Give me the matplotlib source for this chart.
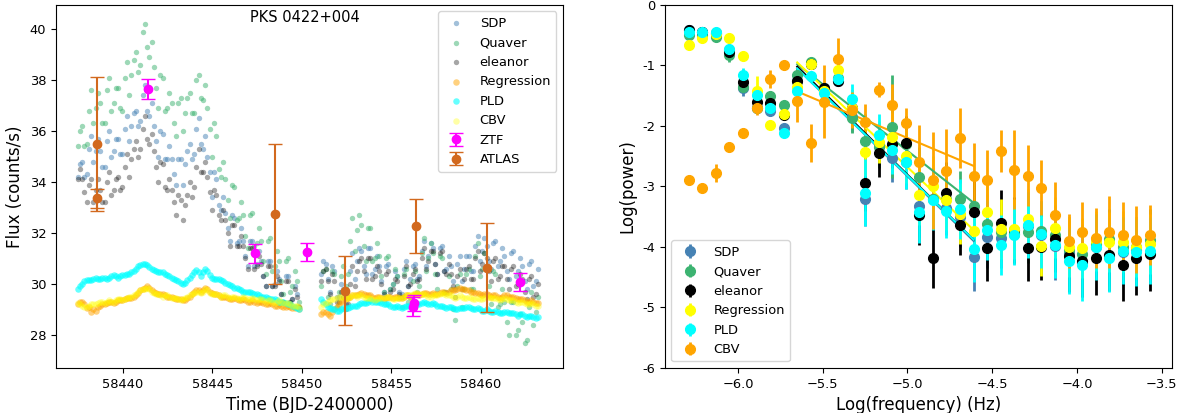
import matplotlib
matplotlib.use("Agg")
import matplotlib.pyplot as plt

# ---------------- Left panel: light curves (two interleaved readings per series) ----------------
time_bjd = [58437.6, 58437.85, 58438.1, 58438.35, 58438.6, 58438.85, 58439.1, 58439.35, 58439.6, 58439.85,
            58440.1, 58440.35, 58440.6, 58440.85, 58441.1, 58441.35, 58441.6, 58441.85, 58442.1, 58442.35,
            58442.6, 58442.85, 58443.1, 58443.35, 58443.6, 58443.85, 58444.1, 58444.35, 58444.6, 58444.85,
            58445.1, 58445.35, 58445.6, 58445.85, 58446.1, 58446.35, 58446.6, 58446.85, 58447.1, 58447.35,
            58447.6, 58447.85, 58448.1, 58448.35, 58448.6, 58448.85, 58449.1, 58449.35, 58449.6, 58449.85,
            58451.2, 58451.45, 58451.7, 58451.95, 58452.2, 58452.45, 58452.7, 58452.95, 58453.2, 58453.45,
            58453.7, 58453.95, 58454.2, 58454.45, 58454.7, 58454.95, 58455.2, 58455.45, 58455.7, 58455.95,
            58456.2, 58456.45, 58456.7, 58456.95, 58457.2, 58457.45, 58457.7, 58457.95, 58458.2, 58458.45,
            58458.7, 58458.95, 58459.2, 58459.45, 58459.7, 58459.95, 58460.2, 58460.45, 58460.7, 58460.95,
            58461.2, 58461.45, 58461.7, 58461.95, 58462.2, 58462.45, 58462.7, 58462.95, 58463.2]
time_bjd_b = [58437.475, 58437.725, 58437.975, 58438.225, 58438.475, 58438.725, 58438.975, 58439.225,
              58439.475, 58439.725, 58439.975, 58440.225, 58440.475, 58440.725, 58440.975, 58441.225,
              58441.475, 58441.725, 58441.975, 58442.225, 58442.475, 58442.725, 58442.975, 58443.225,
              58443.475, 58443.725, 58443.975, 58444.225, 58444.475, 58444.725, 58444.975, 58445.225,
              58445.475, 58445.725, 58445.975, 58446.225, 58446.475, 58446.725, 58446.975, 58447.225,
              58447.475, 58447.725, 58447.975, 58448.225, 58448.475, 58448.725, 58448.975, 58449.225,
              58449.475, 58449.725,
              58451.075, 58451.325, 58451.575, 58451.825, 58452.075, 58452.325, 58452.575, 58452.825,
              58453.075, 58453.325, 58453.575, 58453.825, 58454.075, 58454.325, 58454.575, 58454.825,
              58455.075, 58455.325, 58455.575, 58455.825, 58456.075, 58456.325, 58456.575, 58456.825,
              58457.075, 58457.325, 58457.575, 58457.825, 58458.075, 58458.325, 58458.575, 58458.825,
              58459.075, 58459.325, 58459.575, 58459.825, 58460.075, 58460.325, 58460.575, 58460.825,
              58461.075, 58461.325, 58461.575, 58461.825, 58462.075, 58462.325, 58462.575, 58462.825,
              58463.075]

flux_sdp = [34.7, 34.2, 35.3, 34.8, 35.7, 34.6, 35.6, 35.0, 35.7, 35.1, 36.1, 35.6, 36.7, 36.2, 37.4, 36.8,
            37.1, 35.6, 36.0, 34.9, 35.4, 34.3, 34.9, 33.9, 35.2, 34.9, 36.1, 35.5, 35.8, 34.4, 34.4, 33.1,
            33.4, 32.2, 32.7, 31.6, 32.2, 31.1, 31.7, 30.7, 31.3, 30.3, 30.9, 29.9, 30.5, 29.6, 30.3, 29.3,
            29.9, 29.1,
            30.9, 30.2, 30.7, 29.5, 30.0, 29.2, 30.5, 30.2, 31.4, 30.7, 31.4, 30.4, 31.1, 30.1, 30.7, 29.8,
            30.5, 29.7, 30.6, 29.9, 30.7, 30.2, 31.3, 30.7, 31.6, 30.8, 31.4, 30.5, 31.1, 30.1, 30.8, 30.1,
            31.1, 30.5, 31.5, 30.9, 31.8, 30.9, 31.6, 30.7, 31.4, 30.5, 31.2, 30.3, 31.0, 30.1, 30.8, 29.9,
            30.6]
flux_sdp_b = [34.2, 34.8, 34.3, 35.8, 35.2, 35.2, 34.6, 36.0, 35.2, 35.7, 35.1, 36.6, 36.2, 36.8, 36.4, 37.8,
              36.6, 36.2, 35.0, 35.9, 34.9, 34.9, 33.9, 34.9, 34.7, 35.5, 35.1, 36.5, 35.3, 35.0, 33.4, 34.1,
              32.9, 32.8, 31.7, 32.6, 31.7, 31.7, 30.7, 31.7, 30.8, 30.9, 29.9, 30.9, 30.0, 30.2, 29.3, 30.3,
              29.4, 29.6,
              30.4, 30.8, 29.7, 30.5, 29.5, 29.8, 29.5, 31.2, 30.9, 31.3, 30.4, 31.4, 30.6, 30.7, 29.7, 30.8,
              30.0, 30.3, 29.6, 30.9, 30.2, 30.8, 30.3, 31.7, 31.1, 31.4, 30.4, 31.5, 30.6, 30.7, 29.8, 31.1,
              30.6, 31.1, 30.5, 31.9, 31.3, 31.5, 30.6, 31.7, 30.9, 31.1, 30.2, 31.3, 30.5, 30.7, 29.8, 30.9,
              30.1]

flux_quaver = [36.0, 35.4, 36.8, 36.3, 37.5, 36.3, 37.6, 36.8, 37.7, 36.9, 38.1, 37.4, 38.8, 38.3, 39.9, 39.3,
               39.5, 37.7, 38.2, 36.8, 37.5, 36.3, 37.1, 36.0, 37.3, 36.7, 38.0, 37.3, 37.8, 36.1, 36.3, 34.5,
               34.8, 33.3, 33.9, 32.5, 33.2, 31.9, 32.7, 31.5, 32.2, 30.9, 31.7, 30.5, 31.3, 30.1, 30.9, 29.7,
               30.5, 29.3,
               30.5, 29.5, 30.5, 29.1, 30.3, 29.9, 31.7, 31.3, 32.7, 31.5, 32.2, 30.9, 31.6, 30.3, 31.0, 29.8,
               30.6, 29.5, 30.4, 29.3, 30.1, 29.7, 31.2, 30.5, 31.6, 30.4, 31.1, 29.7, 30.3, 29.0, 29.9, 29.1,
               30.4, 29.8, 31.1, 30.3, 31.2, 29.9, 30.5, 29.1, 29.8, 28.5, 29.3, 28.0, 28.8, 27.7, 29.1, 28.4,
               29.5]
flux_quaver_b = [35.4, 36.2, 35.5, 37.6, 36.9, 37.1, 36.3, 38.1, 37.1, 37.7, 36.8, 38.7, 38.2, 39.1, 38.6, 40.2,
                 38.9, 38.5, 36.9, 38.1, 36.9, 37.1, 35.8, 37.3, 36.7, 37.5, 36.7, 38.2, 37.2, 36.9, 35.0, 35.8,
                 34.2, 34.1, 32.6, 33.8, 32.6, 32.7, 31.4, 32.8, 31.6, 31.7, 30.4, 31.8, 30.7, 30.9, 29.6, 31.0,
                 29.9, 30.1,
                 29.9, 30.6, 29.2, 30.4, 29.7, 30.7, 30.4, 32.6, 32.1, 32.3, 30.9, 32.2, 31.0, 31.1, 29.7, 31.1,
                 30.0, 30.3, 29.1, 30.6, 29.5, 30.5, 29.9, 31.8, 31.0, 31.2, 29.8, 31.0, 29.7, 29.8, 28.6, 30.4,
                 29.8, 30.6, 29.8, 31.6, 30.6, 30.7, 29.2, 30.4, 29.2, 29.3, 28.0, 29.3, 28.2, 28.5, 27.8, 29.7,
                 28.9]

flux_eleanor = [34.5, 33.6, 33.9, 33.2, 34.1, 33.2, 34.0, 33.5, 34.1, 33.7, 34.6, 34.2, 35.3, 35.0, 36.1, 35.7,
                35.9, 34.6, 34.8, 33.8, 34.1, 33.2, 33.5, 32.5, 33.5, 33.4, 34.6, 34.4, 34.8, 33.6, 33.7, 32.7,
                32.9, 32.0, 32.3, 31.5, 31.9, 31.0, 31.4, 30.6, 31.1, 30.3, 30.7, 29.9, 30.3, 29.6, 30.1, 29.3,
                29.8, 29.1,
                30.5, 30.1, 30.4, 29.3, 29.7, 29.0, 30.0, 29.9, 30.9, 30.5, 31.0, 30.2, 30.7, 30.0, 30.4, 29.7,
                30.2, 29.6, 30.3, 29.9, 30.4, 30.1, 31.0, 30.6, 31.3, 30.8, 31.2, 30.5, 30.8, 29.9, 30.3, 29.8,
                30.6, 30.2, 31.0, 30.5, 31.2, 30.5, 30.9, 30.2, 30.7, 30.2, 30.6, 29.9, 30.4, 29.7, 30.2, 29.5,
                30.0]
flux_eleanor_b = [34.1, 34.1, 33.2, 34.1, 33.7, 33.7, 33.2, 34.4, 33.7, 34.2, 33.8, 35.1, 34.9, 35.6, 35.3, 36.6,
                  35.5, 35.2, 34.0, 34.7, 33.7, 33.7, 32.7, 33.3, 33.1, 34.0, 33.8, 35.3, 34.4, 34.2, 32.9, 33.5,
                  32.5, 32.5, 31.5, 32.3, 31.5, 31.5, 30.6, 31.4, 30.7, 30.8, 29.9, 30.7, 29.9, 30.1, 29.3, 30.1,
                  29.4, 29.5,
                  30.1, 30.6, 29.6, 30.1, 29.3, 29.5, 29.2, 30.7, 30.5, 31.0, 30.2, 31.0, 30.3, 30.5, 29.6, 30.5,
                  29.8, 30.1, 29.5, 30.7, 30.0, 30.6, 30.2, 31.4, 30.9, 31.3, 30.4, 31.3, 30.4, 30.4, 29.5, 30.6,
                  30.2, 30.7, 30.2, 31.3, 30.8, 31.0, 30.1, 31.0, 30.3, 30.7, 29.8, 30.7, 30.0, 30.2, 29.4, 30.3,
                  29.6]

flux_regression = [29.3, 29.2, 29.1, 29.0, 29.1, 29.2, 29.25, 29.3, 29.3, 29.35, 29.4, 29.45, 29.5, 29.65, 29.8,
                   29.9, 29.75, 29.65, 29.6, 29.55, 29.5, 29.45, 29.4, 29.35, 29.45, 29.6, 29.75, 29.7, 29.85,
                   29.7, 29.6, 29.55, 29.5, 29.45, 29.4, 29.4, 29.35, 29.35, 29.3, 29.3, 29.3, 29.25, 29.2, 29.2,
                   29.15, 29.15, 29.1, 29.1, 29.05, 29.0,
                   28.9, 28.8, 28.9, 29.1, 29.3, 29.4, 29.5, 29.55, 29.6, 29.6, 29.55, 29.5, 29.5, 29.45, 29.45,
                   29.5, 29.5, 29.45, 29.5, 29.55, 29.55, 29.6, 29.6, 29.65, 29.6, 29.6, 29.65, 29.7, 29.7, 29.75,
                   29.8, 29.8, 29.75, 29.7, 29.65, 29.6, 29.6, 29.55, 29.55, 29.5, 29.5, 29.55, 29.5, 29.45, 29.4,
                   29.35, 29.3, 29.3, 29.25]
flux_regression_b = [29.2, 29.3, 29.05, 28.9, 28.95, 29.15, 29.2, 29.3, 29.25, 29.35, 29.35, 29.45, 29.45, 29.55,
                     29.75, 29.85, 29.85, 29.7, 29.6, 29.6, 29.5, 29.5, 29.4, 29.4, 29.35, 29.5, 29.7, 29.75,
                     29.75, 29.8, 29.65, 29.6, 29.5, 29.5, 29.4, 29.45, 29.35, 29.4, 29.3, 29.35, 29.25, 29.3,
                     29.2, 29.25, 29.15, 29.2, 29.1, 29.15, 29.05, 29.1,
                     28.8, 28.9, 28.75, 29.0, 29.2, 29.35, 29.45, 29.55, 29.55, 29.65, 29.55, 29.55, 29.45, 29.5,
                     29.4, 29.5, 29.45, 29.5, 29.45, 29.55, 29.5, 29.6, 29.55, 29.65, 29.6, 29.65, 29.6, 29.7,
                     29.65, 29.75, 29.75, 29.85, 29.8, 29.75, 29.7, 29.65, 29.55, 29.6, 29.5, 29.55, 29.45, 29.55,
                     29.5, 29.5, 29.4, 29.4, 29.3, 29.35, 29.25]

flux_pld = [29.9, 30.1, 30.15, 30.2, 30.2, 30.25, 30.2, 30.3, 30.3, 30.3, 30.35, 30.4, 30.5, 30.7, 30.8, 30.75,
            30.6, 30.5, 30.45, 30.4, 30.3, 30.2, 30.1, 30.0, 30.15, 30.35, 30.55, 30.3, 30.6, 30.35, 30.2, 30.2,
            30.1, 30.0, 29.9, 29.85, 29.75, 29.7, 29.7, 29.6, 29.55, 29.5, 29.45, 29.4, 29.35, 29.3, 29.25, 29.2,
            29.1, 29.0,
            29.3, 29.1, 29.0, 28.95, 29.0, 29.05, 29.1, 29.15, 29.2, 29.25, 29.3, 29.3, 29.3, 29.25, 29.2, 29.15,
            29.1, 29.1, 29.1, 29.15, 29.2, 29.2, 29.25, 29.25, 29.2, 29.2, 29.15, 29.1, 29.1, 29.05, 29.0, 29.05,
            29.1, 29.05, 29.0, 29.0, 28.95, 28.95, 28.9, 28.9, 28.85, 28.9, 28.85, 28.8, 28.8, 28.75, 28.75,
            28.7, 28.7]
flux_pld_b = [29.8, 30.0, 30.15, 30.15, 30.25, 30.2, 30.25, 30.25, 30.35, 30.25, 30.35, 30.4, 30.45, 30.6, 30.75,
              30.8, 30.65, 30.55, 30.45, 30.45, 30.35, 30.25, 30.15, 30.05, 30.05, 30.25, 30.45, 30.45, 30.45,
              30.5, 30.25, 30.2, 30.15, 30.05, 29.95, 29.85, 29.8, 29.7, 29.7, 29.65, 29.6, 29.5, 29.5, 29.4,
              29.4, 29.3, 29.3, 29.2, 29.15, 29.05,
              29.4, 29.2, 29.05, 29.0, 28.95, 29.05, 29.05, 29.15, 29.15, 29.25, 29.25, 29.35, 29.3, 29.3, 29.2,
              29.2, 29.1, 29.15, 29.05, 29.15, 29.15, 29.25, 29.2, 29.3, 29.2, 29.25, 29.15, 29.15, 29.05, 29.1,
              29.0, 29.05, 29.05, 29.1, 29.0, 29.05, 28.95, 29.0, 28.9, 28.95, 28.85, 28.9, 28.85, 28.85, 28.75,
              28.8, 28.7, 28.75, 28.65]

flux_cbv = [29.2, 29.1, 29.15, 29.2, 29.25, 29.3, 29.3, 29.3, 29.35, 29.4, 29.4, 29.5, 29.55, 29.7, 29.8, 29.85,
            29.7, 29.6, 29.55, 29.55, 29.5, 29.45, 29.4, 29.4, 29.5, 29.6, 29.7, 29.65, 29.8, 29.65, 29.6, 29.55,
            29.55, 29.5, 29.5, 29.45, 29.45, 29.45, 29.4, 29.4, 29.4, 29.35, 29.35, 29.3, 29.3, 29.3, 29.25, 29.2,
            29.15, 29.1,
            29.2, 29.3, 29.4, 29.45, 29.5, 29.45, 29.5, 29.55, 29.55, 29.5, 29.45, 29.4, 29.4, 29.45, 29.5, 29.45,
            29.4, 29.45, 29.5, 29.55, 29.6, 29.65, 29.6, 29.55, 29.5, 29.55, 29.6, 29.6, 29.55, 29.5, 29.5, 29.5,
            29.45, 29.45, 29.4, 29.4, 29.45, 29.5, 29.45, 29.4, 29.4, 29.4, 29.35, 29.3, 29.3, 29.25, 29.2, 29.2,
            29.15]
flux_cbv_b = [29.25, 29.15, 29.1, 29.2, 29.2, 29.3, 29.25, 29.35, 29.3, 29.4, 29.35, 29.45, 29.5, 29.6, 29.75,
              29.8, 29.8, 29.65, 29.6, 29.5, 29.55, 29.45, 29.45, 29.35, 29.45, 29.55, 29.65, 29.7, 29.7, 29.75,
              29.6, 29.6, 29.5, 29.55, 29.45, 29.5, 29.4, 29.5, 29.4, 29.45, 29.35, 29.4, 29.3, 29.35, 29.25,
              29.35, 29.25, 29.25, 29.15, 29.15,
              29.1, 29.25, 29.35, 29.4, 29.5, 29.5, 29.45, 29.55, 29.5, 29.55, 29.45, 29.45, 29.35, 29.45, 29.45,
              29.5, 29.4, 29.45, 29.45, 29.55, 29.55, 29.65, 29.6, 29.6, 29.5, 29.55, 29.55, 29.65, 29.55, 29.55,
              29.45, 29.55, 29.45, 29.5, 29.4, 29.45, 29.4, 29.5, 29.45, 29.45, 29.35, 29.45, 29.35, 29.35, 29.25,
              29.3, 29.2, 29.25, 29.15]

ztf_time = [58441.38, 58447.37, 58450.3, 58456.2, 58456.25, 58462.2]
ztf_flux = [37.65, 31.2, 31.24, 29.11, 29.25, 30.07]
ztf_err = [0.4, 0.36, 0.36, 0.38, 0.3, 0.35]

atlas_time = [58438.55, 58438.55, 58448.49, 58452.44, 58456.39, 58460.35]
atlas_flux = [35.49, 33.36, 32.73, 29.73, 32.27, 30.64]
atlas_err = [2.63, 0.38, 2.75, 1.35, 1.05, 1.75]

# ---------------- Right panel: power spectra ----------------
log_freq = [-6.29, -6.21, -6.13, -6.05, -5.97, -5.89, -5.81, -5.73, -5.65, -5.57, -5.49, -5.41,
            -5.33, -5.25, -5.17, -5.09, -5.01, -4.93, -4.85, -4.77, -4.69, -4.61, -4.53, -4.45,
            -4.37, -4.29, -4.21, -4.13, -4.05, -3.97, -3.89, -3.81, -3.73, -3.65, -3.57]

pow_sdp = [-0.42, -0.45, -0.48, -0.75, -1.38, -1.7, -1.75, -2.03, -1.25, -0.98, -1.38, -1.25, -1.85, -3.2,
           -2.3, -2.53, -2.6, -3.33, -3.2, -3.35, -3.5, -4.17, -3.84, -3.85, -3.78, -3.65, -3.8, -3.99, -4.1,
           -4.27, -4.0, -4.15, -4.08, -4.05, -4.1]
pow_quaver = [-0.5, -0.5, -0.53, -0.83, -1.35, -1.7, -1.5, -1.65, -1.15, -0.95, -1.42, -1.2, -1.87, -2.25,
              -2.35, -2.01, -2.3, -2.84, -3.2, -3.2, -3.2, -3.33, -3.62, -3.75, -3.78, -3.76, -3.74, -3.8,
              -4.05, -4.12, -3.95, -3.87, -4.0, -4.0, -3.88]
pow_eleanor = [-0.42, -0.45, -0.47, -0.77, -1.28, -1.6, -1.62, -1.82, -1.25, -0.98, -1.38, -1.25, -1.7, -2.95,
               -2.45, -2.3, -2.28, -3.47, -4.18, -3.1, -3.63, -3.42, -4.02, -3.61, -3.72, -4.02, -4.0, -3.86,
               -4.15, -4.23, -4.19, -4.13, -4.29, -4.19, -4.12]
pow_regression = [-0.67, -0.55, -0.48, -0.55, -0.85, -1.42, -1.98, -1.8, -1.35, -0.97, -1.42, -1.08, -1.7,
                  -2.43, -2.26, -2.18, -2.5, -3.14, -3.0, -3.22, -3.45, -3.74, -3.43, -3.7, -3.7, -3.54, -3.98,
                  -3.68, -4.0, -4.02, -3.9, -3.92, -3.91, -4.0, -3.95]
pow_pld = [-0.45, -0.45, -0.45, -0.72, -1.15, -1.48, -1.7, -2.12, -1.43, -1.17, -1.45, -1.22, -1.55, -3.1,
           -2.15, -2.4, -2.6, -3.43, -3.22, -3.4, -3.37, -4.03, -3.72, -3.97, -3.8, -3.64, -3.79, -3.97, -4.23,
           -4.29, -4.0, -4.19, -4.06, -4.09, -4.06]
pow_cbv = [-2.9, -3.02, -2.78, -2.35, -2.12, -1.7, -1.22, -1.0, -1.58, -2.28, -1.6, -0.9, -1.74, -1.94, -1.4,
           -1.65, -1.95, -2.59, -2.9, -2.75, -2.2, -2.83, -2.9, -2.41, -2.72, -2.82, -3.02, -3.47, -3.9, -3.76,
           -3.85, -3.75, -3.8, -3.88, -3.8]

err_sdp = [0.03, 0.03, 0.03, 0.05, 0.12, 0.08, 0.08, 0.05, 0.1, 0.05, 0.08, 0.08, 0.25, 0.45, 0.35, 0.4,
           0.45, 0.5, 0.5, 0.45, 0.5, 0.55, 0.5, 0.5, 0.5, 0.5, 0.5, 0.55, 0.55, 0.55, 0.5, 0.5, 0.55, 0.5, 0.5]
err_quaver = [0.03, 0.03, 0.03, 0.12, 0.08, 0.08, 0.08, 0.05, 0.1, 0.05, 0.1, 0.05, 0.25, 0.45, 0.35, 0.85,
              0.4, 0.5, 0.5, 0.45, 0.45, 0.5, 0.5, 0.5, 0.45, 0.5, 0.5, 0.5, 0.55, 0.5, 0.5, 0.5, 0.5, 0.5, 0.5]
err_eleanor = [0.03, 0.03, 0.03, 0.05, 0.08, 0.08, 0.08, 0.05, 0.08, 0.05, 0.08, 0.05, 0.3, 0.45, 0.4, 0.4,
               0.45, 0.5, 0.5, 0.5, 0.5, 0.55, 0.55, 0.55, 0.55, 0.55, 0.55, 0.55, 0.6, 0.6, 0.6, 0.6, 0.6, 0.6,
               0.6]
err_regression = [0.03, 0.03, 0.03, 0.05, 0.08, 0.25, 0.08, 0.05, 0.1, 0.05, 0.08, 0.08, 0.3, 0.4, 0.35, 0.4,
                  0.45, 0.5, 0.5, 0.5, 0.5, 0.5, 0.5, 0.5, 0.5, 0.5, 0.5, 0.5, 0.5, 0.5, 0.5, 0.5, 0.5, 0.5, 0.5]
err_pld = [0.03, 0.03, 0.03, 0.05, 0.1, 0.1, 0.08, 0.05, 0.1, 0.05, 0.08, 0.05, 0.25, 0.55, 0.35, 0.4, 0.45,
           0.5, 0.5, 0.45, 0.5, 0.55, 0.5, 0.5, 0.5, 0.55, 0.55, 0.55, 0.55, 0.6, 0.55, 0.55, 0.55, 0.55, 0.55]
err_cbv = [0.05, 0.05, 0.15, 0.05, 0.08, 0.12, 0.15, 0.08, 0.35, 0.32, 0.6, 0.35, 0.3, 0.3, 0.12, 0.35, 0.25,
           0.6, 0.8, 0.7, 0.5, 0.55, 0.5, 0.35, 0.65, 0.5, 0.45, 0.55, 0.45, 0.5, 0.5, 0.6, 0.55, 0.55, 0.5]

# linear fits: value at the start and at the end of the fit range
fit_range = [-5.65, -4.61]
fit_sdp = [-1.05, -3.9]
fit_quaver = [-0.98, -3.27]
fit_eleanor = [-1.02, -3.88]
fit_regression = [-0.95, -3.72]
fit_pld = [-1.05, -3.88]
fit_cbv = [-1.43, -2.66]

# ---------------- Figure ----------------
fig = plt.figure(figsize=(11.87, 4.13), dpi=100)
ax1 = fig.add_axes([0.0472, 0.109, 0.4271, 0.879])
ax2 = fig.add_axes([0.5602, 0.109, 0.4272, 0.879])

TICK = 9.4
LAB = 12

t_all = time_bjd + time_bjd_b
lc = [
    ('SDP', flux_sdp + flux_sdp_b, 'steelblue', 0.5, 15),
    ('Quaver', flux_quaver + flux_quaver_b, 'mediumseagreen', 0.5, 15),
    ('eleanor', flux_eleanor + flux_eleanor_b, 'black', 0.35, 15),
    ('Regression', flux_regression + flux_regression_b, 'orange', 0.5, 22),
    ('PLD', flux_pld + flux_pld_b, 'cyan', 0.6, 22),
    ('CBV', flux_cbv + flux_cbv_b, 'yellow', 0.35, 22),
]
for name, f, c, a, s in lc:
    ax1.scatter(t_all, f, s=s, color=c, alpha=a, lw=0, label=name)
ax1.errorbar(ztf_time, ztf_flux, yerr=ztf_err, fmt='o', color='magenta', ms=6, capsize=5, label='ZTF')
ax1.errorbar(atlas_time, atlas_flux, yerr=atlas_err, fmt='o', color='chocolate', ms=6, capsize=5,
             label='ATLAS')
ax1.set_xlim(58436.26, 58464.6)
ax1.set_ylim(26.7, 40.95)
ax1.set_xticks([58440, 58445, 58450, 58455, 58460])
ax1.set_yticks([28, 30, 32, 34, 36, 38, 40])
ax1.tick_params(labelsize=TICK)
ax1.set_xlabel('Time (BJD-2400000)', fontsize=LAB)
ax1.set_ylabel('Flux (counts/s)', fontsize=LAB)
ax1.text(0.49, 0.985, 'PKS 0422+004', transform=ax1.transAxes, ha='center', va='top', fontsize=10.5)
ax1.legend(loc='upper right', fontsize=TICK)

series = [
    ('SDP', pow_sdp, err_sdp, fit_sdp, 'steelblue'),
    ('Quaver', pow_quaver, err_quaver, fit_quaver, 'mediumseagreen'),
    ('eleanor', pow_eleanor, err_eleanor, fit_eleanor, 'black'),
    ('Regression', pow_regression, err_regression, fit_regression, 'yellow'),
    ('PLD', pow_pld, err_pld, fit_pld, 'cyan'),
    ('CBV', pow_cbv, err_cbv, fit_cbv, 'orange'),
]
for name, p, e, f, c in series:
    ax2.errorbar(log_freq, p, yerr=e, fmt='o', color=c, ms=7, elinewidth=2, label=name)
for name, p, e, f, c in series:
    ax2.plot(fit_range, f, color=c, lw=1.5)

ax2.set_xlim(-6.43, -3.44)
ax2.set_ylim(-6, 0)
ax2.set_xticks([-6.0, -5.5, -5.0, -4.5, -4.0, -3.5])
ax2.set_yticks([0, -1, -2, -3, -4, -5, -6])
ax2.set_yticklabels(['0', '-1', '-2', '-3', '-4', '-5', '-6'])
ax2.tick_params(labelsize=TICK)
ax2.set_xlabel('Log(frequency) (Hz)', fontsize=LAB)
ax2.set_ylabel('Log(power)', fontsize=LAB)
ax2.legend(loc='lower left', fontsize=TICK)

fig.savefig('out.png', dpi=100)
